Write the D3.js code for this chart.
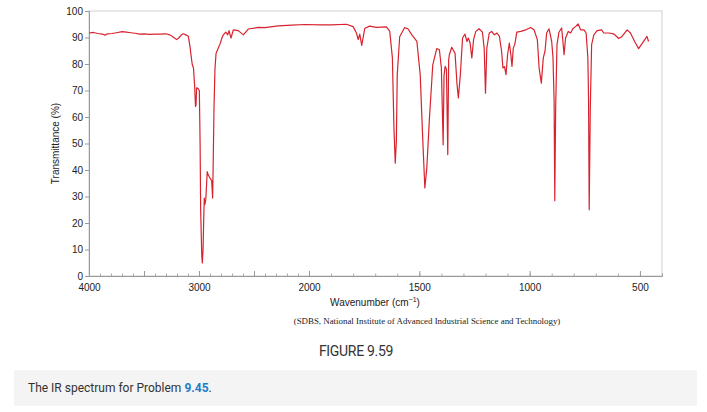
<!DOCTYPE html>
<html>
<head>
<meta charset="utf-8">
<script src="https://cdn.jsdelivr.net/npm/d3@7"></script>
<style>
  html, body { margin: 0; padding: 0; background: #fff; }
  svg { display: block; }
</style>
</head>
<body>
<svg id="chart" width="707" height="412"></svg>
<script>
// ---- data ----
const wavenumber = [
  4000,3960,3920,3880,3855,3830,3790,3750,3700,3660,3620,3580,3540,3500,3450,3400,3350,3300,3260,3230,
  3203,3180,3160,3143,3120,3097,3080,3073,3061,3050,3040,3032,3027,3022,3010,2997,2990,2985,2975,2970,
  2963,2958,2952,2946,2938,2925,2915,2900,2885,2876,2870,2864,2855,2845,2820,2809,2790,2779,2757,2739,
  2727,2709,2688,2643,2597,2552,2461,2400,2279,2157,2036,1950,1898,1830,1800,1785,1777,1770,1761,1747,
  1725,1694,1649,1634,1622,1615,1609,1604,1600,1589,1567,1552,1532,1511,1496,1484,1475,1466,1454,1439,
  1421,1409,1400,1392,1388,1383,1377,1371,1367,1364,1353,1338,1329,1323,1314,1304,1293,1284,1278,1270,
  1262,1254,1244,1229,1214,1206,1200,1194,1183,1172,1160,1148,1137,1127,1121,1114,1107,1100,1092,1085,
  1080,1074,1067,1058,1040,1017,995,980,965,957,947,938,930,923,912,900,894,889,886,882,
  876,867,855,849,844,837,825,814,804,791,780,769,754,744,736,733,730,725,719,709,
  694,674,664,641,619,596,581,558,543,524,506,488,468,461
];
const transmittance = [
  91.7,91.9,91.5,91.3,90.9,91.4,91.5,91.8,92.2,92.0,91.8,91.6,91.3,91.4,91.2,91.3,91.3,91.4,90.9,90.0,
  89.2,90.0,91.0,91.4,91.0,90.5,86.0,83.5,79.7,78.5,72.0,64.0,64.5,71.0,70.8,70.0,50.0,25.0,8.0,4.9,
  10.0,20.0,29.4,27.0,29.0,39.4,38.0,37.0,36.0,29.4,45.0,62.6,78.0,84.0,86.5,87.5,90.0,91.0,92.0,91.0,
  92.6,89.8,92.9,92.6,91.0,93.2,93.8,93.7,94.4,94.7,94.9,94.8,94.8,95.0,94.1,91.7,89.2,91.3,87.0,93.5,
  94.3,93.8,94.0,92.3,82.3,55.8,42.6,51.0,76.0,90.3,93.7,93.3,90.8,88.5,76.0,50.8,33.2,40.8,59.6,79.7,
  85.8,85.4,78.5,49.5,75.6,79.1,78.0,45.8,81.4,83.5,86.3,84.0,72.2,67.2,76.0,89.8,91.3,88.5,89.8,88.0,
  82.3,89.2,92.3,93.3,92.0,86.0,69.0,86.0,91.7,92.3,91.0,91.7,90.4,84.8,78.5,79.0,76.0,83.5,87.9,83.5,
  79.1,86.0,87.5,92.0,92.3,92.9,93.8,92.9,89.2,78.5,72.8,82.3,85.0,91.7,93.3,88.5,82.3,65.9,28.4,63.4,
  87.3,92.0,93.6,88.5,83.5,89.8,92.3,91.7,93.3,94.2,95.1,92.9,92.9,91.7,82.3,67.2,25.0,63.4,87.3,91.0,
  92.6,92.9,91.7,91.7,91.4,89.6,90.4,92.9,91.7,88.5,85.8,88.0,90.4,88.5
];
const yTicks = [0,10,20,30,40,50,60,70,80,90,100];
const xLabelTicks = [4000,3000,2000,1500,1000,500];
const xMajorTicks = [4000,3500,3000,2500,2000,1500,1000,500];
const xMinorTicks = d3.range(4000, 399, -100);

// ---- layout ----
const svg = d3.select("#chart");
const mLeft = 89, mRight = 662, mTop = 11, mBottom = 276;

// SDBS style split scale: 4000-2000 compressed 2x relative to 2000-400
const x = d3.scaleLinear().domain([4000, 2000, 400]).range([mLeft, 309, mRight]);
const y = d3.scaleLinear().domain([0, 100]).range([mBottom, mTop]);

// frame
svg.append("rect")
  .attr("x", mLeft).attr("y", mTop)
  .attr("width", mRight - mLeft).attr("height", mBottom - mTop)
  .attr("fill", "none").attr("stroke", "#cfcfcf").attr("stroke-width", 1);

// y axis
const yAxis = svg.append("g")
  .attr("transform", `translate(${mLeft},0)`)
  .call(d3.axisLeft(y).tickValues(yTicks).tickSize(4).tickPadding(2));
yAxis.select(".domain").attr("stroke", "#999");
yAxis.selectAll(".tick line").attr("stroke", "#999");
yAxis.selectAll(".tick text")
  .attr("font-family", "'Liberation Sans', Arial, sans-serif")
  .attr("font-size", 10).attr("fill", "#222");

// x axis minor ticks (inward)
const xMinor = svg.append("g")
  .attr("transform", `translate(0,${mBottom})`)
  .call(d3.axisBottom(x).tickValues(xMinorTicks).tickSize(-2.5).tickFormat(""));
xMinor.select(".domain").attr("stroke", "#999");
xMinor.selectAll(".tick line").attr("stroke", "#aaa");

// x axis major ticks (inward, longer)
const xMajor = svg.append("g")
  .attr("transform", `translate(0,${mBottom})`)
  .call(d3.axisBottom(x).tickValues(xMajorTicks).tickSize(-5)
    .tickFormat(d => xLabelTicks.includes(d) ? String(d) : ""));
xMajor.select(".domain").remove();
xMajor.selectAll(".tick line").attr("stroke", "#999");
xMajor.selectAll(".tick text")
  .attr("y", 8)
  .attr("font-family", "'Liberation Sans', Arial, sans-serif")
  .attr("font-size", 10).attr("fill", "#222");

// spectrum line
const pts = wavenumber.map((w, i) => [w, transmittance[i]]);
svg.append("path")
  .datum(pts)
  .attr("fill", "none")
  .attr("stroke", "#d8232f")
  .attr("stroke-width", 1.2)
  .attr("stroke-linejoin", "round")
  .attr("d", d3.line().x(d => x(d[0])).y(d => y(d[1])));

// axis titles
svg.append("text")
  .attr("transform", `translate(59,${(mTop + mBottom) / 2}) rotate(-90)`)
  .attr("text-anchor", "middle")
  .attr("font-family", "'Liberation Sans', Arial, sans-serif")
  .attr("font-size", 10).attr("fill", "#222")
  .text("Transmittance (%)");

const xt = svg.append("text")
  .attr("x", 375).attr("y", 306)
  .attr("text-anchor", "middle")
  .attr("font-family", "'Liberation Sans', Arial, sans-serif")
  .attr("font-size", 10).attr("fill", "#222");
xt.append("tspan").text("Wavenumber (cm");
xt.append("tspan").attr("dy", -4).attr("font-size", 7).text("\u22121");
xt.append("tspan").attr("dy", 4).text(")");

svg.append("text")
  .attr("x", 427).attr("y", 324)
  .attr("text-anchor", "middle")
  .attr("font-family", "'Liberation Serif', 'Times New Roman', serif")
  .attr("font-size", 8.9).attr("fill", "#222")
  .text("(SDBS, National Institute of Advanced Industrial Science and Technology)");

// figure caption
svg.append("text")
  .attr("x", 356).attr("y", 356)
  .attr("text-anchor", "middle")
  .attr("font-family", "Roboto, 'Open Sans', sans-serif")
  .attr("font-size", 14).attr("fill", "#333")
  .attr("letter-spacing", -0.3)
  .text("FIGURE 9.59");

svg.append("rect")
  .attr("x", 14).attr("y", 370).attr("width", 683).attr("height", 36)
  .attr("fill", "#f4f4f4");

const cap = svg.append("text")
  .attr("x", 28).attr("y", 392)
  .attr("font-family", "Roboto, 'Open Sans', sans-serif")
  .attr("font-size", 12).attr("fill", "#333");
cap.append("tspan").text("The IR spectrum for Problem ");
cap.append("tspan").attr("fill", "#1a7ec8").attr("font-weight", "bold").text("9.45");
cap.append("tspan").text(".");
</script>
</body>
</html>
